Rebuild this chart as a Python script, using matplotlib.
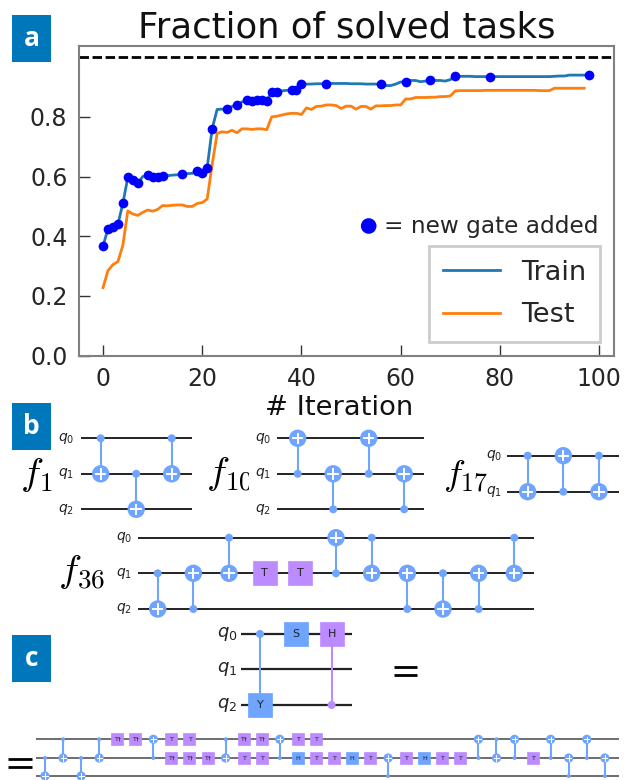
import matplotlib
matplotlib.use("Agg")
import matplotlib.pyplot as plt
from matplotlib.patches import Circle, Rectangle

plt.rcParams["font.family"] = "DejaVu Sans"
plt.rcParams["mathtext.fontset"] = "cm"

W, H = 631, 780
BADGE = "#0077bb"
GATE_BLUE = "#6fa4ff"
GATE_PURPLE = "#bb8bff"
TEXT = "#262626"
SPINE = "#808080"

# ── data ───────────────────────────────────────────────────
train_frac = [
    .367, .425, .430, .440, .510, .597, .590, .577, .600, .605,
    .600, .600, .603, .603, .605, .606, .608, .610, .611, .620,
    .612, .630, .760, .825, .826, .827, .835, .840, .850, .855,
    .853, .858, .855, .853, .883, .885, .887, .889, .890, .890,
    .910, .910, .910, .911, .911, .911, .912, .912, .912, .912,
    .911, .911, .911, .910, .910, .910, .910, .905, .905, .910,
    .917, .917, .922, .922, .918, .920, .925, .922, .922, .920,
    .925, .936, .936, .936, .936, .935, .935, .935, .935, .935,
    .935, .935, .935, .935, .935, .935, .935, .935, .935, .935,
    .935, .936, .937, .937, .940, .940, .940, .940, .940,
]
test_frac = [
    .228, .285, .305, .315, .370, .485, .475, .470, .480, .488,
    .484, .490, .503, .502, .504, .505, .505, .500, .500, .510,
    .513, .525, .640, .745, .750, .748, .755, .747, .760, .760,
    .758, .760, .760, .757, .800, .802, .806, .810, .812, .812,
    .808, .830, .825, .835, .836, .840, .840, .838, .828, .836,
    .836, .826, .835, .835, .826, .837, .837, .838, .838, .840,
    .840, .860, .860, .865, .865, .865, .866, .866, .868, .868,
    .870, .887, .888, .888, .888, .888, .888, .889, .889, .889,
    .889, .889, .889, .889, .889, .889, .889, .889, .888, .888,
    .888, .896, .896, .896, .896, .896, .896, .896,
]
new_gate_iters = [0, 1, 2, 3, 4, 5, 6, 7, 9, 10, 11, 12, 16, 19, 20, 21, 22,
                  25, 27, 29, 30, 31, 32, 33, 34, 35, 38, 39, 40, 45, 56,
                  61, 66, 71, 78, 98]
y_ticks = [0.0, 0.2, 0.4, 0.6, 0.8]
x_ticks = [0, 20, 40, 60, 80, 100]

# circuits: one list of gates per column
f1_gates = [[("cx", 0, 1)], [("cx", 1, 2)], [("cx", 0, 1)]]
f10_gates = [[("cx", 1, 0)], [("cx", 2, 1)], [("cx", 1, 0)], [("cx", 2, 1)]]
f17_gates = [[("cx", 0, 1)], [("cx", 1, 0)], [("cx", 0, 1)]]
f36_gates = [
    [("cx", 1, 2)], [("cx", 2, 1)], [("cx", 0, 1)], [("T", 1)], [("T", 1)],
    [("cx", 1, 0)], [("cx", 0, 1)], [("cx", 2, 1)], [("cx", 1, 2)],
    [("cx", 2, 1)], [("cx", 0, 1)],
]
top_gates = [[("cy", 0, 2)], [("S", 0)], [("ch", 2, 0)]]
expanded_gates = [
    [("cx", 1, 2)], [("cx", 0, 1)], [("cx", 1, 2)], [("cx", 0, 1)],
    [("T†", 0)], [("T†", 0)], [("cx", 1, 0)],
    [("T", 0), ("T†", 1)], [("T", 0), ("T†", 1)], [("T†", 1)],
    [("cx", 0, 1)], [("T†", 0), ("T", 1)], [("T†", 0), ("T", 1)],
    [("cx", 1, 0)], [("T", 0), ("H", 1)], [("T", 0), ("T", 1)],
    [("T", 1)], [("H", 1)], [("T", 1)], [("cx", 2, 1)], [("T", 1)],
    [("H", 1)], [("T", 1)], [("T", 1)], [("cx", 1, 0)], [("cx", 0, 1)],
    [("cx", 1, 0)], [("T", 1)], [("cx", 1, 0)], [("cx", 2, 1)],
    [("cx", 1, 0)], [("cx", 2, 1)],
]


def draw_box(ax, x, y, name, size, fs):
    color = GATE_BLUE if name in ("S", "H_blue", "Y") else GATE_PURPLE
    label = name.split("_")[0]
    ax.add_patch(Rectangle((x - size / 2, y - size / 2), size, size, fc=color,
                           ec=color, lw=0.5, zorder=4))
    ax.text(x, y, label, ha="center", va="center", fontsize=fs,
            color="#222222", zorder=5)


def draw_target(ax, x, y, r, color=GATE_BLUE):
    ax.add_patch(Circle((x, y), r, fc=color, ec="none", zorder=4))
    lw = max(0.7, r * 0.16)
    ax.plot([x - r * 0.55, x + r * 0.55], [y, y], color="white", lw=lw, zorder=5)
    ax.plot([x, x], [y - r * 0.55, y + r * 0.55], color="white", lw=lw, zorder=5)


def draw_circuit(ax, gates, wires, x_start, x_end, col0, dx, box=24, r=8.7,
                 dot=4, label_x=None, label_fs=10, gate_fs=8, wire_lw=1.4,
                 wire_color="#222222"):
    for i, wy in enumerate(wires):
        ax.plot([x_start, x_end], [wy, wy], color=wire_color, lw=wire_lw,
                solid_capstyle="butt", zorder=1)
        if label_x is not None:
            ax.text(label_x, wy, f"$q_{i}$", ha="center", va="center",
                    fontsize=label_fs, color="#222222", math_fontfamily="dejavusans")
    for col, column in enumerate(gates):
        x = col0 + col * dx
        for g in column:
            if g[0] == "cx":
                c, t = g[1], g[2]
                ax.plot([x, x], [wires[c], wires[t]], color=GATE_BLUE, lw=1.5, zorder=3)
                ax.add_patch(Circle((x, wires[c]), dot, fc=GATE_BLUE, ec="none", zorder=4))
                draw_target(ax, x, wires[t], r)
            elif g[0] == "cy":
                c, t = g[1], g[2]
                ax.plot([x, x], [wires[c], wires[t]], color=GATE_BLUE, lw=1.5, zorder=3)
                ax.add_patch(Circle((x, wires[c]), dot, fc=GATE_BLUE, ec="none", zorder=4))
                draw_box(ax, x, wires[t], "Y", box, gate_fs)
            elif g[0] == "ch":
                c, t = g[1], g[2]
                ax.plot([x, x], [wires[c], wires[t]], color=GATE_PURPLE, lw=1.5, zorder=3)
                ax.add_patch(Circle((x, wires[c]), dot, fc=GATE_PURPLE, ec="none", zorder=4))
                draw_box(ax, x, wires[t], "H", box, gate_fs)
            elif g[0] == "H":
                draw_box(ax, x, wires[g[1]], "H_blue", box, gate_fs)
            else:
                draw_box(ax, x, wires[g[1]], g[0], box, gate_fs)


def main():
    fig = plt.figure(figsize=(W / 100, H / 100), dpi=100, facecolor="white")

    # ── panel a ────────────────────────────────────────────
    ax = fig.add_axes([78.5 / W, 1 - 355.7 / H, 535.5 / W, 309.7 / H])
    iters = list(range(len(train_frac)))
    ax.plot(iters, train_frac, color="tab:blue", lw=2, label="Train")
    ax.plot(range(len(test_frac)), test_frac, color="tab:orange", lw=2, label="Test")
    ax.plot(new_gate_iters, [train_frac[i] for i in new_gate_iters], "o", color="blue",
            ms=7, mew=0, zorder=5)
    ax.axhline(1.0, color="black", lw=2, ls=(0, (3.4, 1.3)))
    ax.set_xlim(-4.94, 103)
    ax.set_ylim(0, 1.0375)
    ax.set_xticks(x_ticks)
    ax.set_yticks(y_ticks)
    ax.tick_params(direction="in", length=8, width=1, labelsize=17, pad=8,
                   color="#333333", labelcolor=TEXT)
    for s in ax.spines.values():
        s.set_color(SPINE)
        s.set_linewidth(1.5)
    leg = ax.legend(loc="lower right", bbox_to_anchor=(521.5 / 535.5, 14 / 309.7),
                    borderaxespad=0, fontsize=19.5, fancybox=False, framealpha=1,
                    edgecolor="#cccccc", handlelength=2.1, labelspacing=0.6,
                    handletextpad=0.8, borderpad=0.5)
    leg.get_frame().set_linewidth(2)
    for t in leg.get_texts():
        t.set_color(TEXT)

    # overlay in pixel coordinates
    ov = fig.add_axes([0, 0, 1, 1], facecolor="none")
    ov.set_xlim(0, W)
    ov.set_ylim(H, 0)
    ov.axis("off")

    ov.text(346.5, 27, "Fraction of solved tasks", ha="center", va="center",
            fontsize=25.5, color="#111111")
    ov.text(339, 408, "# Iteration", ha="center", va="center", fontsize=19.7, color="#111111")
    ov.add_patch(Circle((368.7, 226), 7.8, fc="blue", ec="none", zorder=6))
    ov.text(384, 226, "= new gate added", ha="left", va="center", fontsize=16.7, color=TEXT)

    for letter, top in zip("abc", [15, 403, 635]):
        ov.add_patch(Rectangle((12, top), 39, 47, fc=BADGE, ec="none"))
        ov.text(31.5, top + 23, letter, ha="center", va="center", color="white",
                fontsize=19, fontweight="bold", family="Open Sans")

    # ── panel b ────────────────────────────────────────────
    b_wires = [438.3, 473.8, 509.3]
    draw_circuit(ov, f1_gates, b_wires, 81, 192, 100.7, 35.5, label_x=66)
    draw_circuit(ov, f10_gates, b_wires, 277, 424.3, 297.7, 35.5, label_x=263)
    draw_circuit(ov, f17_gates, [455.7, 491.7], 507, 619, 527.7, 35.6, label_x=494)
    draw_circuit(ov, f36_gates, [537.7, 573.3, 609], 138, 534, 157.7, 35.66, label_x=124)

    labels = [("$f_{1}$", 20, 475, 60, 28), ("$f_{10}$", 206, 475, 249, 28),
              ("$f_{17}$", 443, 475, 490, 26.5), ("$f_{36}$", 58, 573, 110, 28)]
    for s, x, y, clip_x, fs in labels:
        t = ov.text(x, y, s, ha="left", va="center", fontsize=fs, color="black")
        t.set_clip_path(Rectangle((x - 5, y - 40), clip_x - x + 5, 80, transform=ov.transData))
        t.set_clip_on(True)

    # ── panel c ────────────────────────────────────────────
    draw_circuit(ov, top_gates, [634, 669.3, 705], 240.7, 352, 260, 35.8,
                 label_x=227, label_fs=13, wire_lw=1.6)
    for y in (666.7, 675):
        ov.plot([393.7, 417], [y, y], color="black", lw=2, solid_capstyle="butt")
    for y in (758.5, 766.5):
        ov.plot([8, 32], [y, y], color="black", lw=2, solid_capstyle="butt")

    draw_circuit(ov, expanded_gates, [739.3, 758, 776], 35.7, 619, 45, 18.06,
                 box=12, r=4.6, dot=2, gate_fs=4.6, wire_lw=1.2, wire_color="#555555")

    fig.savefig("out.png", dpi=100, facecolor="white")
    plt.close(fig)


if __name__ == "__main__":
    main()
